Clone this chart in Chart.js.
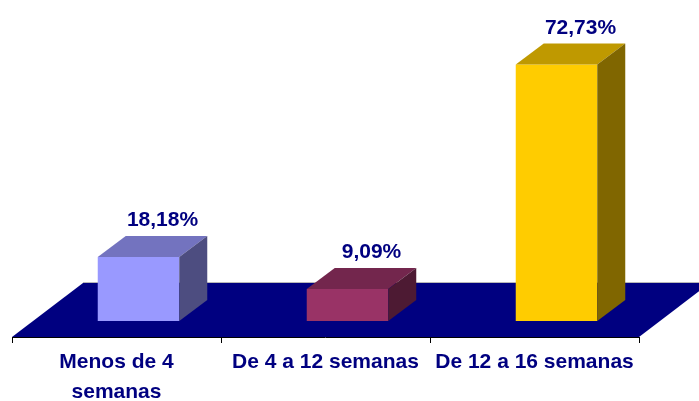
<!DOCTYPE html>
<html>
<head>
<meta charset="utf-8">
<script src="https://cdn.jsdelivr.net/npm/chart.js@4.4.1/dist/chart.umd.min.js"></script>
<style>
  html, body { margin: 0; padding: 0; background: #fff; }
  #wrap { width: 699px; height: 401px; }
</style>
</head>
<body>
<div id="wrap"><canvas id="chart"></canvas></div>
<script>
const categories = [['Menos de 4', 'semanas'], 'De 4 a 12 semanas', 'De 12 a 16 semanas'];
const values = [18.18, 9.09, 72.73];
const valueLabels = ['18,18%', '9,09%', '72,73%'];

// front / top / side shades of each bar
const frontColors = ['#9999FF', '#993366', '#FFCC00'];
const topColors = ['#7373BF', '#73264D', '#BF9900'];
const sideColors = ['#4D4D80', '#4D1A33', '#806600'];

const NAVY = '#000080';
const FONT = 'Liberation Sans, Arial, sans-serif';
const DEPTH_X = 28, DEPTH_Y = 21;   // bar depth
const SHIFT_X = 22;                 // bars sit in the middle of the floor
const FLOOR_X = 71, FLOOR_Y = 54;   // floor depth

// fake 3D: floor under the bars, top and side faces on top of them
const box3d = {
    id: 'box3d',
    beforeDatasetsDraw(chart) {
        const ctx = chart.ctx;
        const a = chart.chartArea;
        ctx.save();
        ctx.beginPath();
        ctx.moveTo(a.left, a.bottom);
        ctx.lineTo(a.right, a.bottom);
        ctx.lineTo(a.right + FLOOR_X, a.bottom - FLOOR_Y);
        ctx.lineTo(a.left + FLOOR_X, a.bottom - FLOOR_Y);
        ctx.closePath();
        ctx.fillStyle = NAVY;
        ctx.fill();
        ctx.lineWidth = 1;
        ctx.strokeStyle = '#b8b8b8';
        ctx.beginPath();
        ctx.moveTo(a.left + FLOOR_X, a.bottom - FLOOR_Y - 0.5);
        ctx.lineTo(a.right + FLOOR_X, a.bottom - FLOOR_Y - 0.5);
        ctx.stroke();
        ctx.strokeStyle = '#000';
        ctx.beginPath();
        ctx.moveTo(a.left, a.bottom + 0.5);
        ctx.lineTo(a.right, a.bottom + 0.5);
        ctx.stroke();
        ctx.restore();

        ctx.save();
        ctx.translate(SHIFT_X, 0);
    },
    afterDatasetsDraw(chart) {
        const ctx = chart.ctx;
        const meta = chart.getDatasetMeta(0);
        meta.data.forEach((bar, i) => {
            const p = bar.getProps(['x', 'y', 'base', 'width'], true);
            const l = p.x - p.width / 2, r = p.x + p.width / 2;

            ctx.fillStyle = topColors[i];
            ctx.beginPath();
            ctx.moveTo(l, p.y);
            ctx.lineTo(r, p.y);
            ctx.lineTo(r + DEPTH_X, p.y - DEPTH_Y);
            ctx.lineTo(l + DEPTH_X, p.y - DEPTH_Y);
            ctx.closePath();
            ctx.fill();

            ctx.fillStyle = sideColors[i];
            ctx.beginPath();
            ctx.moveTo(r, p.y);
            ctx.lineTo(r + DEPTH_X, p.y - DEPTH_Y);
            ctx.lineTo(r + DEPTH_X, p.base - DEPTH_Y);
            ctx.lineTo(r, p.base);
            ctx.closePath();
            ctx.fill();

            ctx.fillStyle = NAVY;
            ctx.font = 'bold 21px ' + FONT;
            ctx.textAlign = 'center';
            ctx.textBaseline = 'alphabetic';
            ctx.fillText(valueLabels[i], p.x + 24, p.y - DEPTH_Y - 10);
        });
        ctx.restore();
    }
};

new Chart(document.getElementById('chart'), {
    type: 'bar',
    data: {
        labels: categories,
        datasets: [{
            data: values,
            backgroundColor: frontColors,
            borderWidth: 0,
            categoryPercentage: 1,
            barPercentage: 0.39,
            clip: false
        }]
    },
    options: {
        responsive: true,
        maintainAspectRatio: false,
        animation: false,
        layout: {
            padding: { left: 12, right: 60, top: 39, bottom: 0 }
        },
        plugins: {
            legend: { display: false },
            tooltip: { enabled: false }
        },
        scales: {
            x: {
                afterFit(scale) { scale.height = 64; },
                border: { display: false },
                grid: {
                    offset: true,
                    drawOnChartArea: false,
                    drawTicks: true,
                    tickLength: 6,
                    color: '#000'
                },
                ticks: {
                    color: NAVY,
                    padding: 5,
                    maxRotation: 0,
                    autoSkip: false,
                    font: { family: FONT, size: 21, weight: 'bold', lineHeight: 1.4 }
                }
            },
            y: {
                display: false,
                min: -4.55,
                max: 80
            }
        }
    },
    plugins: [box3d]
});
</script>
</body>
</html>
